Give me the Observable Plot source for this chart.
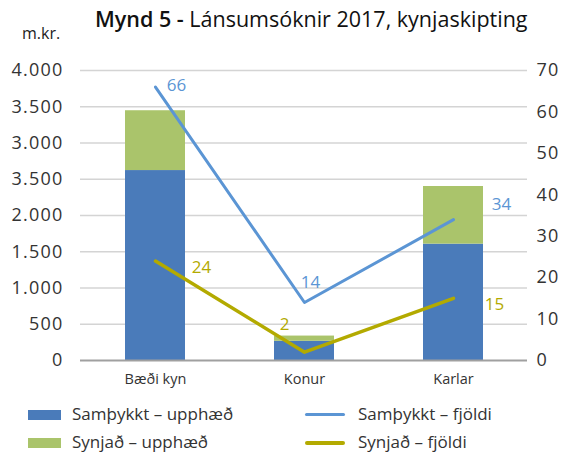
<!DOCTYPE html>
<html><head><meta charset="utf-8">
<script src="https://cdn.jsdelivr.net/npm/d3@7"></script>
<script src="https://cdn.jsdelivr.net/npm/@observablehq/plot@0.6"></script>
<style>
body{margin:0;background:#fff;font-family:"Open Sans",sans-serif;color:#222;}
#wrap{position:relative;width:565px;height:454px;overflow:hidden;}
#title{position:absolute;left:95px;top:4px;font-size:21.5px;white-space:nowrap;color:#111;}
#unit{position:absolute;left:22px;top:22px;font-size:16px;color:#222;}
#chart{position:absolute;left:0;top:50px;}
#chart svg g[aria-label="y-axis tick label"] text{letter-spacing:1.2px;}
.leg{position:absolute;font-size:17px;white-space:nowrap;color:#333;}
.sw{position:absolute;}
</style></head>
<body><div id="wrap">
<div id="title"><b style="font-weight:600">Mynd 5 -</b> Lánsumsóknir 2017, kynjaskipting</div>
<div id="unit">m.kr.</div>
<div id="chart"></div>
</div>
<script>
const categories = ["Bæði kyn", "Konur", "Karlar"];
const samthykktUpphaed = [2620, 265, 1605];
const synjadUpphaed = [825, 72, 795];
const samthykktFjoldi = [66, 14, 34];
const synjadFjoldi = [24, 2, 15];
const leftTicks = [0, 500, 1000, 1500, 2000, 2500, 3000, 3500, 4000];
const leftTickLabels = ["0", "500", "1.000", "1.500", "2.000", "3.500", "3.000", "3.500", "4.000"];
const rightTicks = [0, 10, 20, 30, 40, 50, 60, 70];
const seriesNames = ["Samþykkt – upphæð", "Synjað – upphæð", "Samþykkt – fjöldi", "Synjað – fjöldi"];

const colors = {blueBar:"#4a7bba", greenBar:"#aac46b", blueLine:"#5b95d4", oliveLine:"#b3aa00"};
const K = 4000 / 70;

const bars = [];
categories.forEach((c, i) => {
  bars.push({cat: c, series: seriesNames[0], value: samthykktUpphaed[i]});
  bars.push({cat: c, series: seriesNames[1], value: synjadUpphaed[i]});
});
const lineA = categories.map((c, i) => ({cat: c, v: samthykktFjoldi[i]}));
const lineB = categories.map((c, i) => ({cat: c, v: synjadFjoldi[i]}));

const labelOffsets = {
  A: [[21, -2], [6, -20], [48, -15]],
  B: [[46, 6], [-20, -28], [41, 6]]
};
const labelMarks = [];
categories.forEach((c, i) => {
  labelMarks.push(Plot.text([lineA[i]], {x: "cat", y: d => d.v * K, text: d => String(d.v), fill: colors.blueLine, fontSize: 17, dx: labelOffsets.A[i][0], dy: labelOffsets.A[i][1]}));
  labelMarks.push(Plot.text([lineB[i]], {x: "cat", y: d => d.v * K, text: d => String(d.v), fill: colors.oliveLine, fontSize: 17, dx: labelOffsets.B[i][0], dy: labelOffsets.B[i][1]}));
});

const chart = Plot.plot({
  width: 565, height: 345,
  marginTop: 20, marginBottom: 35, marginLeft: 80, marginRight: 38,
  style: {fontFamily: "Open Sans, sans-serif", background: "transparent"},
  x: {domain: categories, paddingInner: 0.6, paddingOuter: 0.3, label: null},
  y: {domain: [0, 4000], label: null},
  color: {domain: seriesNames.slice(0, 2), range: [colors.blueBar, colors.greenBar]},
  marks: [
    Plot.ruleY(leftTicks.slice(1), {stroke: "#d4d4d4", strokeWidth: 1.5}),
    Plot.barY(bars, {x: "cat", y: "value", fill: "series", order: seriesNames.slice(0, 2)}),
    Plot.ruleY([0], {stroke: "#a0a0a0", strokeWidth: 2}),
    Plot.line(lineA, {x: "cat", y: d => d.v * K, stroke: colors.blueLine, strokeWidth: 3}),
    Plot.line(lineB, {x: "cat", y: d => d.v * K, stroke: colors.oliveLine, strokeWidth: 3.5}),
    ...labelMarks,
    Plot.axisY(leftTicks, {anchor: "left", tickSize: 0, tickPadding: 17, tickFormat: (d, i) => leftTickLabels[i], fontSize: 18, fill: "#333", label: null}),
    Plot.axisY(rightTicks.map(v => v * K), {anchor: "right", tickSize: 0, tickPadding: 9, tickFormat: d => String(Math.round(d / K)), fontSize: 18, fill: "#333", textAnchor: "start", label: null}),
    Plot.axisX({tickSize: 0, tickPadding: 13, fontSize: 14.5, fill: "#333", label: null})
  ]
});
document.getElementById("chart").appendChild(chart);

// legend
const wrap = document.getElementById("wrap");
const legendItems = [
  {name: seriesNames[0], kind: "rect", color: colors.blueBar, x: 28, y: 415},
  {name: seriesNames[1], kind: "rect", color: colors.greenBar, x: 28, y: 443},
  {name: seriesNames[2], kind: "line", color: colors.blueLine, x: 305, y: 415},
  {name: seriesNames[3], kind: "line", color: colors.oliveLine, x: 305, y: 443}
];
legendItems.forEach(it => {
  const sw = document.createElement("div");
  sw.className = "sw";
  if (it.kind === "rect") {
    sw.style.cssText = `left:${it.x}px;top:${it.y - 5}px;width:33px;height:10px;background:${it.color}`;
  } else {
    sw.style.cssText = `left:${it.x}px;top:${it.y - 2}px;width:40px;height:${it.color === colors.oliveLine ? 4 : 3}px;background:${it.color};border-radius:2px`;
  }
  wrap.appendChild(sw);
  const t = document.createElement("div");
  t.className = "leg";
  t.textContent = it.name;
  t.style.left = (it.kind === "rect" ? it.x + 44 : it.x + 53) + "px";
  t.style.top = (it.y - 13) + "px";
  wrap.appendChild(t);
});
</script>
</body></html>
